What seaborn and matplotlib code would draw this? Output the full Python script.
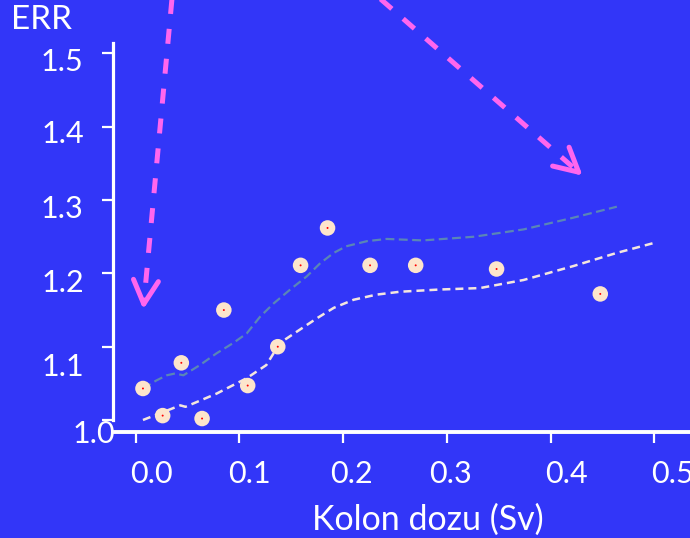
import numpy as np
import pandas as pd
import matplotlib
matplotlib.use("Agg")
import matplotlib.pyplot as plt
import matplotlib.transforms as mtransforms
import seaborn as sns

# ---- data ----
dose = [0.007, 0.026, 0.044, 0.064, 0.085, 0.108, 0.137, 0.159, 0.185, 0.226, 0.270, 0.348, 0.448]
err = [1.043, 1.006, 1.078, 1.002, 1.150, 1.047, 1.100, 1.211, 1.262, 1.211, 1.211, 1.206, 1.172]

upper_x = [0.007, 0.020, 0.030, 0.038, 0.046, 0.062, 0.078, 0.094, 0.107, 0.120, 0.133, 0.149,
           0.165, 0.178, 0.191, 0.203, 0.223, 0.242, 0.277, 0.326, 0.374, 0.422, 0.464]
upper_y = [1.043, 1.054, 1.061, 1.0635, 1.061, 1.075, 1.091, 1.105, 1.118, 1.141, 1.159, 1.178,
           1.196, 1.214, 1.228, 1.237, 1.244, 1.247, 1.245, 1.250, 1.260, 1.276, 1.291]
lower_x = [0.007, 0.025, 0.043, 0.048, 0.078, 0.107, 0.126, 0.139, 0.158, 0.175, 0.191, 0.210,
           0.232, 0.255, 0.293, 0.332, 0.374, 0.422, 0.464, 0.501]
lower_y = [1.000, 1.010, 1.020, 1.018, 1.036, 1.057, 1.075, 1.105, 1.123, 1.139, 1.153, 1.164,
           1.171, 1.175, 1.178, 1.180, 1.191, 1.210, 1.228, 1.242]

xticks = [0.0, 0.1, 0.2, 0.3, 0.4, 0.5]
xticklabels = ["0.0", "0.1", "0.2", "0.3", "0.4", "0.5"]
yticks = [1.0, 1.1, 1.2, 1.3, 1.4, 1.5]
yticklabels = ["1.0", "1.1", "1.2", "1.3", "1.4", "1.5"]

# annotation arrows (start -> tip)
arrow1_x = [0.035, 0.0073]
arrow1_y = [1.575, 1.151]
arrow2_x = [0.2356, 0.431]
arrow2_y = [1.575, 1.3333]

# ---- style ----
BG = "#3236F8"
PINK = "#FF66EE"
CREAM = "#FDE5CC"
UPPER_C = "#5A86B6"
LOWER_C = "#F4E6DE"
WHITE = "#FFFFFF"

sns.set_theme(style="white")
plt.rcParams["font.family"] = ["Lato", "DejaVu Sans"]

fig = plt.figure(figsize=(6.9, 5.38), dpi=100, facecolor=BG)
ax = fig.add_axes([0, 0, 1, 1])
ax.set_facecolor(BG)

# pixel-calibrated limits
x0px, xscale = 135.7, 1037.0
y0px, yscale = 420.0, 733.0
ax.set_xlim(-x0px / xscale, (690 - x0px) / xscale)
ax.set_ylim(1.0 - (538 - y0px) / yscale, 1.0 + y0px / yscale)

df_up = pd.DataFrame({"x": upper_x, "y": upper_y})
df_lo = pd.DataFrame({"x": lower_x, "y": lower_y})
sns.lineplot(data=df_up, x="x", y="y", ax=ax, color=UPPER_C, lw=1.6,
             linestyle=(0, (4, 2)), sort=False, zorder=2)
sns.lineplot(data=df_lo, x="x", y="y", ax=ax, color=LOWER_C, lw=1.8,
             linestyle=(0, (3.2, 2)), sort=False, zorder=2)

df_pts = pd.DataFrame({"dose": dose, "err": err})
sns.scatterplot(data=df_pts, x="dose", y="err", ax=ax, s=125, color=CREAM,
                edgecolor="none", zorder=3)
sns.scatterplot(data=df_pts, x="dose", y="err", ax=ax, s=2, color="red",
                edgecolor="none", zorder=4)

# dashed arrows
for axs, ays in [(arrow1_x, arrow1_y), (arrow2_x, arrow2_y)]:
    sx, sy = axs[0], ays[0]
    tx, ty = axs[1], ays[1]
    ax.plot([sx, sx + (tx - sx) * 0.95], [sy, sy + (ty - sy) * 0.95],
            color=PINK, lw=3.6, linestyle=(0, (3, 3)), solid_capstyle="butt",
            dash_capstyle="butt", zorder=5)
    ax.annotate("", xy=(tx, ty), xytext=(sx + (tx - sx) * 0.97, sy + (ty - sy) * 0.97),
                arrowprops=dict(arrowstyle="->,head_length=0.85,head_width=0.45",
                                color=PINK, lw=3.6, shrinkA=0, shrinkB=0,
                                mutation_scale=20), zorder=5)

# spines
for s in ["top", "right"]:
    ax.spines[s].set_visible(False)
ax.spines["left"].set_position(("data", -0.022))
ax.spines["left"].set_bounds(1.0, 1.514)
ax.spines["left"].set_color(WHITE)
ax.spines["left"].set_linewidth(2.3)
ax.spines["bottom"].set_position(("data", 1.0 - 12.3 / yscale))
ax.spines["bottom"].set_bounds(-0.020, 0.54)
ax.spines["bottom"].set_color(WHITE)
ax.spines["bottom"].set_linewidth(2.8)

ax.set_xticks(xticks)
ax.set_xticklabels(xticklabels)
ax.set_yticks(yticks)
ax.set_yticklabels(yticklabels)
ax.tick_params(axis="both", colors=WHITE, labelcolor=WHITE, direction="out",
               length=8, width=1.6, labelsize=22)
ax.tick_params(axis="y", pad=13)
ax.tick_params(axis="x", pad=12)
ax.tick_params(left=True, bottom=True)

ax.set_xlabel("Kolon dozu (Sv)", color=WHITE, fontsize=24.5)
ax.set_ylabel("ERR", color=WHITE, fontsize=24, rotation=0, ha="center", va="center")
ax.xaxis.set_label_coords(427.4 / 690, 1 - 520 / 538)
ax.yaxis.set_label_coords(41 / 690, 1 - 20 / 538)
ax.xaxis.label.set_va("center")

fig.canvas.draw()
# per-label nudges (pixels, right / down) to mirror the reference layout
x_nudge = [16, 10, 8, 4, 16, 18]
y_nudge = [(31, 12), (0, 18), (0, 6.7), (0, 6.3), (0, 5), (0, 6.5)]
for lab, dx in zip(ax.get_xticklabels(), x_nudge):
    lab.set_transform(lab.get_transform() +
                      mtransforms.ScaledTranslation(dx / 100, 0, fig.dpi_scale_trans))
for lab, (dx, dy) in zip(ax.get_yticklabels(), y_nudge):
    lab.set_transform(lab.get_transform() +
                      mtransforms.ScaledTranslation(dx / 100, -dy / 100, fig.dpi_scale_trans))

fig.savefig("out.png", dpi=100, facecolor=BG)
